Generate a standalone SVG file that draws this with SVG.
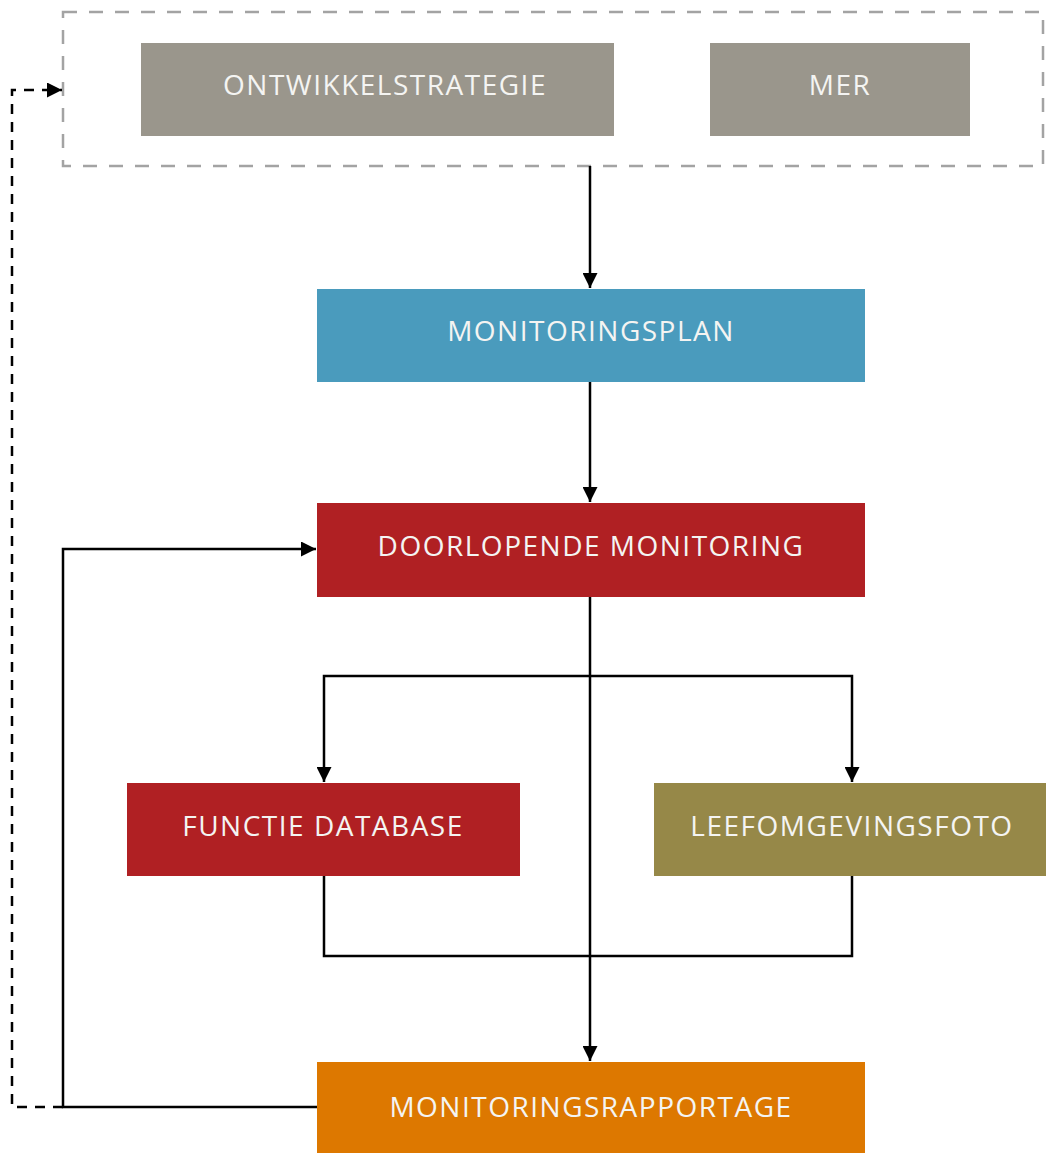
<svg xmlns="http://www.w3.org/2000/svg" width="1046" height="1153" viewBox="0 0 1046 1153">
<defs>
<style>
.lbl{font-family:"Open Sans","Liberation Sans",sans-serif;font-size:28px;fill:#f4f4f2;text-anchor:middle;letter-spacing:1.5px}
.ln{fill:none;stroke:#000;stroke-width:2.5}
.dash{fill:none;stroke:#000;stroke-width:2.5;stroke-dasharray:10 8}
</style>
<marker id="ah" viewBox="0 0 10 10" refX="10" refY="5" markerWidth="6" markerHeight="6" markerUnits="strokeWidth" orient="auto">
<path d="M0,0 L10,5 L0,10 Z" fill="#000"/>
</marker>
</defs>
<rect width="1046" height="1153" fill="#fff"/>
<g id="group-box">
<rect x="63" y="12" width="980" height="154" fill="none" stroke="#a3a3a3" stroke-width="2.5" stroke-dasharray="14 12"/>
</g>
<g id="node-ontwikkelstrategie">
<rect x="141" y="43" width="473" height="93" fill="#9a968c"/>
<text class="lbl" x="385" y="95">ONTWIKKELSTRATEGIE</text>
</g>
<g id="node-mer">
<rect x="710" y="43" width="260" height="93" fill="#9a968c"/>
<text class="lbl" x="840" y="95">MER</text>
</g>
<g id="node-monitoringsplan">
<rect x="317" y="289" width="548" height="93" fill="#4a9bbd"/>
<text class="lbl" x="591" y="341">MONITORINGSPLAN</text>
</g>
<g id="node-doorlopende">
<rect x="317" y="503" width="548" height="94" fill="#b02023"/>
<text class="lbl" x="591" y="556">DOORLOPENDE MONITORING</text>
</g>
<g id="node-functie">
<rect x="127" y="783" width="393" height="93" fill="#b02023"/>
<text class="lbl" x="323" y="836">FUNCTIE DATABASE</text>
</g>
<g id="node-leefomgeving">
<rect x="654" y="783" width="392" height="93" fill="#968848"/>
<text class="lbl" x="852" y="836">LEEFOMGEVINGSFOTO</text>
</g>
<g id="node-rapportage">
<rect x="317" y="1062" width="548" height="91" fill="#dd7800"/>
<text class="lbl" x="591" y="1117">MONITORINGSRAPPORTAGE</text>
</g>
<g id="connectors">
<path class="ln" d="M590,166 V288" marker-end="url(#ah)"/>
<path class="ln" d="M590,382 V502" marker-end="url(#ah)"/>
<path class="ln" d="M590,597 V1061" marker-end="url(#ah)"/>
<path class="ln" d="M590,676 H324 V782" marker-end="url(#ah)"/>
<path class="ln" d="M590,676 H852 V782" marker-end="url(#ah)"/>
<path class="ln" d="M324,876 V956 H852 V876"/>
<path class="ln" d="M317,1107 H63 V549 H316" marker-end="url(#ah)"/>
<path class="dash" d="M63,1107 H12 V90 H62" marker-end="url(#ah)"/>
</g>
</svg>
